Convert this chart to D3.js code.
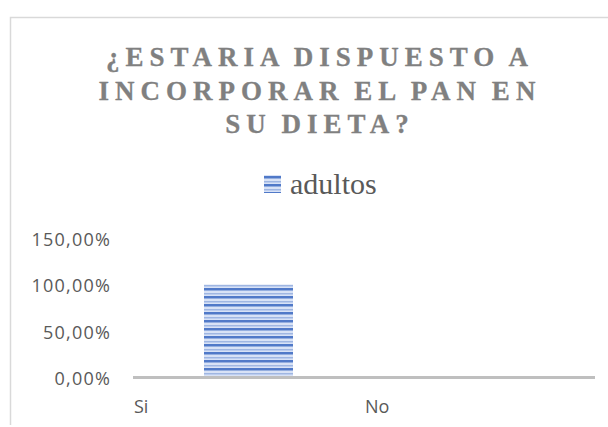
<!DOCTYPE html>
<html><head><meta charset="utf-8">
<script src="https://cdn.jsdelivr.net/npm/d3@7"></script>
<style>body{margin:0;background:#fff}svg{display:block}</style>
</head><body>
<svg id="c" width="608" height="427"></svg>
<script>
const titleLines = ["¿ESTARIA DISPUESTO A", "INCORPORAR EL PAN EN", "SU DIETA?"];
const seriesName = "adultos";
const categories = ["Si", "No"];
const values = [1.0, 0.0];
const yTicks = [0, 0.5, 1.0, 1.5];

const svg = d3.select("#c");
const defs = svg.append("defs");
const pat = defs.append("pattern").attr("id","stripes").attr("patternUnits","userSpaceOnUse")
  .attr("width",8).attr("height",8);
pat.append("rect").attr("width",8).attr("height",8).attr("fill","#d8e2f6");
pat.append("rect").attr("y",0).attr("width",8).attr("height",2).attr("fill","#5079c8");
pat.append("rect").attr("y",2).attr("width",8).attr("height",1).attr("fill","#94aedf");
pat.append("rect").attr("y",5).attr("width",8).attr("height",1).attr("fill","#9fb6e2");
pat.append("rect").attr("y",6).attr("width",8).attr("height",1).attr("fill","#bccdee");

// chart border
svg.append("path").attr("d","M10.5,425 V17.5 H608").attr("fill","none").attr("stroke","#d9d9d9").attr("stroke-width",1.5);

// title
const title = svg.append("g");
const baselines = [66, 99.5, 133];
titleLines.forEach((t,i)=>{
  title.append("text").attr("x",320).attr("y",baselines[i]).attr("text-anchor","middle")
    .attr("font-family","Liberation Serif, Times New Roman, serif").attr("font-weight","bold")
    .attr("font-size",27).attr("letter-spacing","6px").attr("word-spacing","-3px")
    .attr("fill","#808080").attr("stroke","#808080").attr("stroke-width",0.3).text(t);
});

// legend
svg.append("rect").attr("x",264).attr("y",175).attr("width",17).attr("height",18).attr("fill","url(#stripes)");
svg.append("text").attr("x",290).attr("y",194).attr("font-family","Liberation Serif, Times New Roman, serif")
  .attr("font-size",30).attr("fill","#595959").text(seriesName);

const x = d3.scaleBand().domain(categories).range([133,595]).paddingInner(0).paddingOuter(0);
const y = d3.scaleLinear().domain([0,1.5]).range([377.5,238]);

// y labels
const yAxis = d3.axisLeft(y).tickValues(yTicks).tickSize(0).tickPadding(0)
  .tickFormat(d => d3.format(".2f")(d*100).replace(".",",") + "%");
const ya = svg.append("g").attr("transform","translate(111,0)").call(yAxis);
ya.select(".domain").remove();
ya.selectAll("text").attr("font-family","Open Sans, sans-serif").attr("font-size",18)
  .attr("letter-spacing","1.2px").attr("fill","#595959").attr("dy","0.4em");

// bars
const barW = 89;
svg.selectAll(".bar").data(categories).enter().append("rect")
  .attr("x", d => x(d) + x.bandwidth()/2 - barW/2)
  .attr("y", (d,i) => y(values[i]))
  .attr("width", barW)
  .attr("height", (d,i) => y(0) - y(values[i]))
  .attr("fill","url(#stripes)");

// x axis line
svg.append("line").attr("x1",133).attr("x2",595).attr("y1",y(0)).attr("y2",y(0))
  .attr("stroke","#bfbfbf").attr("stroke-width",3);

// category labels
svg.selectAll(".cat").data(categories).enter().append("text")
  .attr("x", d => x(d) + 1).attr("y", 413)
  .attr("font-family","Open Sans, sans-serif").attr("font-size",18).attr("fill","#595959")
  .text(d => d);
</script>
</body></html>
